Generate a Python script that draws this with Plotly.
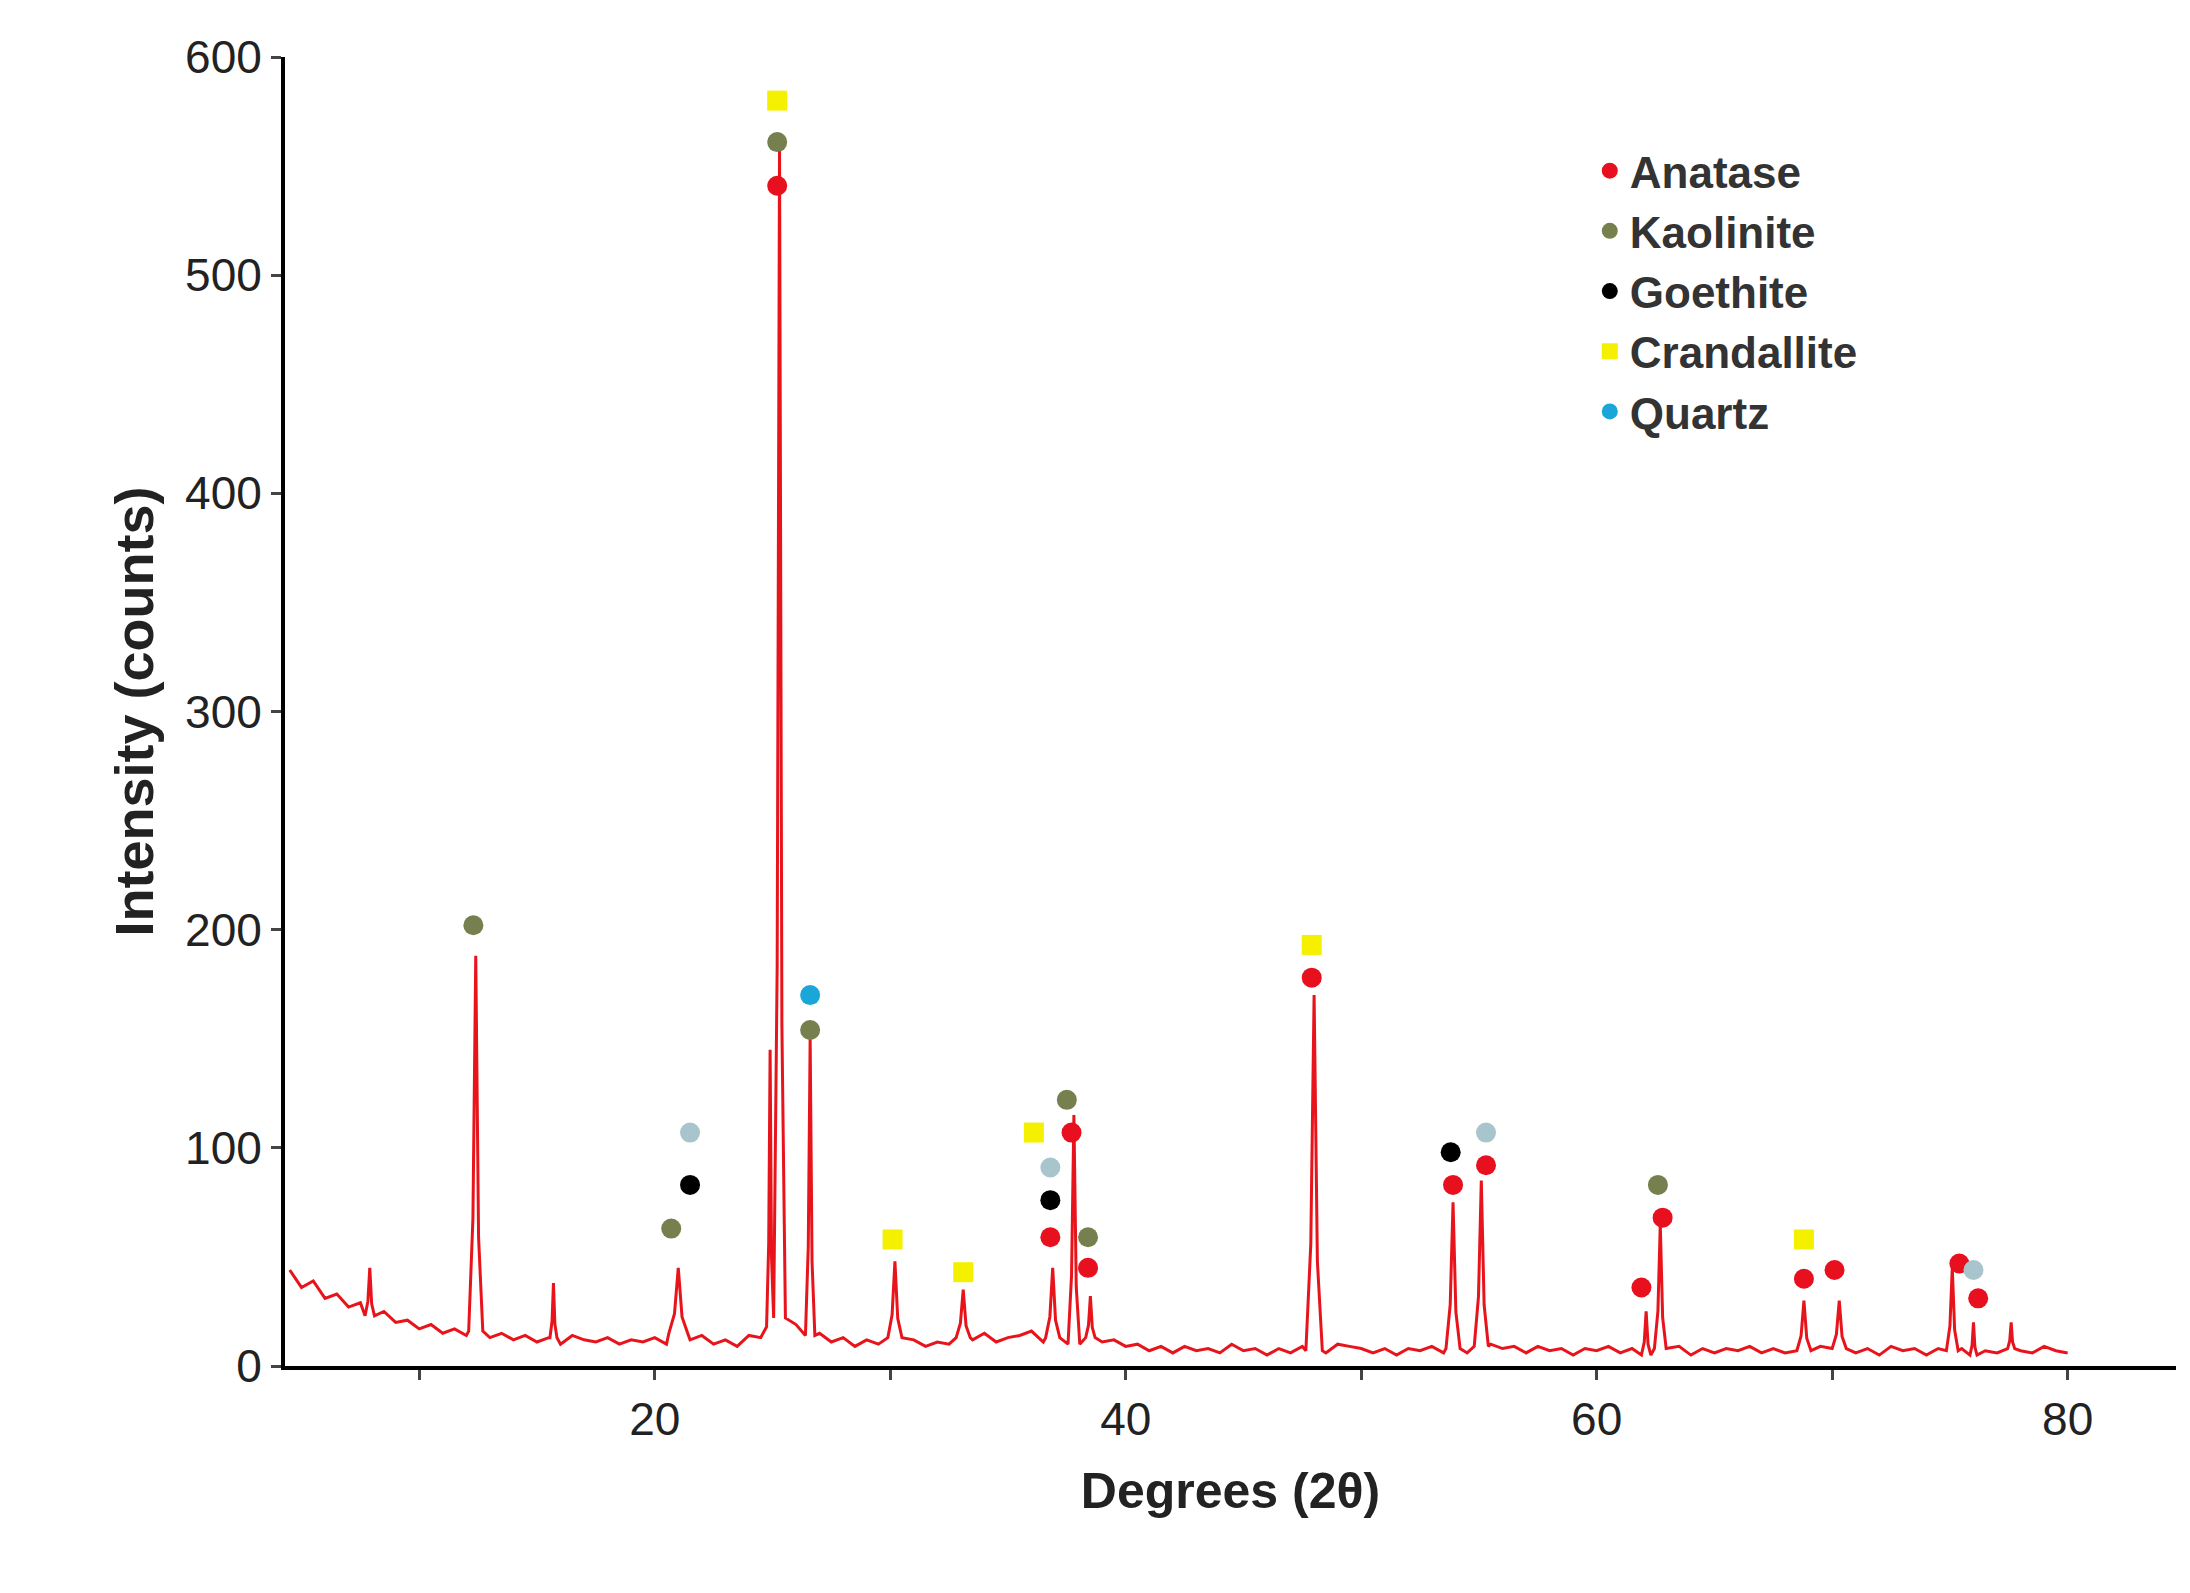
import plotly.graph_objects as go

# baseline every 0.5 deg from 4.5 to 80
base_x = [4.5 + 0.5*i for i in range(152)]
base_y = [44,36,39,31,33,27,29,23,25,20,21,17,
          19,15,17,14,16,13,15,12,14,11,13,10,14,12,11,13,10,12,11,13,
          10,15,12,14,10,12,9,14,13,18,22,19,14,15,11,13,9,12,10,13,
          8,12,9,11,10,13,12,15,11,13,14,16,11,13,9,10,13,11,12,9,
          10,7,9,6,9,7,8,6,10,7,8,5,8,6,9,7,6,10,9,8,
          6,8,5,8,7,9,6,8,6,9,10,8,9,6,9,7,8,5,8,7,
          9,6,8,5,8,7,9,5,8,6,8,7,9,6,8,6,8,7,9,5,
          8,6,8,5,9,7,8,5,8,7,8,5,7,6,8,7,6,9,7,6,5,7]
peak_c = [7.9, 12.4, 15.7, 21.0, 24.9, 25.3, 26.6, 30.2, 33.1, 36.9, 37.8, 38.5, 48.0, 53.9, 55.1, 62.1, 62.7, 68.8, 70.3, 75.1, 76.0, 77.6]
peak_h = [45, 188, 38, 45, 145, 560, 150, 48, 35, 45, 115, 32, 170, 75, 85, 25, 65, 30, 30, 45, 20, 20]
peak_w = [0.2, 0.3, 0.15, 0.4, 0.15, 0.25, 0.2, 0.3, 0.3, 0.3, 0.25, 0.2, 0.35, 0.3, 0.3, 0.2, 0.25, 0.3, 0.3, 0.25, 0.15, 0.15]

ana_x = [25.2, 37.7, 38.4, 47.9, 53.9, 55.3, 61.9, 62.8, 68.8, 70.1, 75.4, 76.2, 36.8]
ana_y = [541, 107, 45, 178, 83, 92, 36, 68, 40, 44, 47, 31, 59]
kao_x = [12.3, 20.7, 25.2, 26.6, 37.5, 38.4, 62.6]
kao_y = [202, 63, 561, 154, 122, 59, 83]
goe_x = [21.5, 36.8, 53.8]
goe_y = [83, 76, 98]
cra_x = [25.2, 30.1, 33.1, 36.1, 47.9, 68.8]
cra_y = [580, 58, 43, 107, 193, 58]
qtz_x = [26.6]
qtz_y = [170]
qtz2_x = [21.5, 36.8, 55.3, 76.0]
qtz2_y = [107, 91, 107, 44]

pts = list(zip(base_x, base_y))
for c, h, w in zip(peak_c, peak_h, peak_w):
    near = min(pts, key=lambda p: abs(p[0]-c))[1]
    pts = [p for p in pts if abs(p[0]-c) > w*1.2]
    pts += [(c - w, near), (c - w*0.4, near + (h-near)*0.3), (c, h), (c + w*0.4, near + (h-near)*0.25), (c + w, near)]
pts.sort()
xs = [p[0] for p in pts]
ys = [p[1] for p in pts]

fig = go.Figure()
fig.add_trace(go.Scatter(x=xs, y=ys, mode="lines", line=dict(color="#e8141c", width=3), showlegend=False))
ms = 20
def mk(x, y, col, name, sym="circle", show=True):
    fig.add_trace(go.Scatter(x=x, y=y, mode="markers", name=name, showlegend=show,
                             marker=dict(color=col, size=ms, symbol=sym)))
mk(ana_x, ana_y, "#e8101e", "<b>Anatase</b>")
mk(kao_x, kao_y, "#76804e", "<b>Kaolinite</b>")
mk(goe_x, goe_y, "#000000", "<b>Goethite</b>")
mk(cra_x, cra_y, "#f5f000", "<b>Crandallite</b>", "square")
mk(qtz_x, qtz_y, "#1aa6d8", "<b>Quartz</b>")
mk(qtz2_x, qtz2_y, "#a8c4cc", "Quartz2", show=False)

fig.update_layout(
    width=2190, height=1593, paper_bgcolor="white", plot_bgcolor="white",
    margin=dict(l=277, r=22, t=49, b=235),
    font=dict(family="Arial, Liberation Sans", color="#222", size=46),
    legend=dict(x=0.69, y=0.94, xanchor="left", yanchor="top", font=dict(size=44, color="#333"),
                bgcolor="rgba(0,0,0,0)", tracegroupgap=0),
    xaxis=dict(range=[4.3, 84.6], tickvals=[10,20,30,40,50,60,70,80],
               ticktext=["","20","","40","","60","","80"], ticks="outside", ticklen=10, tickwidth=3,
               showline=True, linecolor="black", linewidth=4, showgrid=False, zeroline=False,
               title=dict(text="<b>Degrees (2θ)</b>", font=dict(size=50), standoff=30)),
    yaxis=dict(range=[0, 600], tickvals=[0,100,200,300,400,500,600], ticks="outside", ticklen=10, tickwidth=3,
               showline=True, linecolor="black", linewidth=4, showgrid=False, zeroline=False,
               title=dict(text="<b>Intensity (counts)</b>", font=dict(size=54), standoff=15)),
)
fig.write_html("out.html")
